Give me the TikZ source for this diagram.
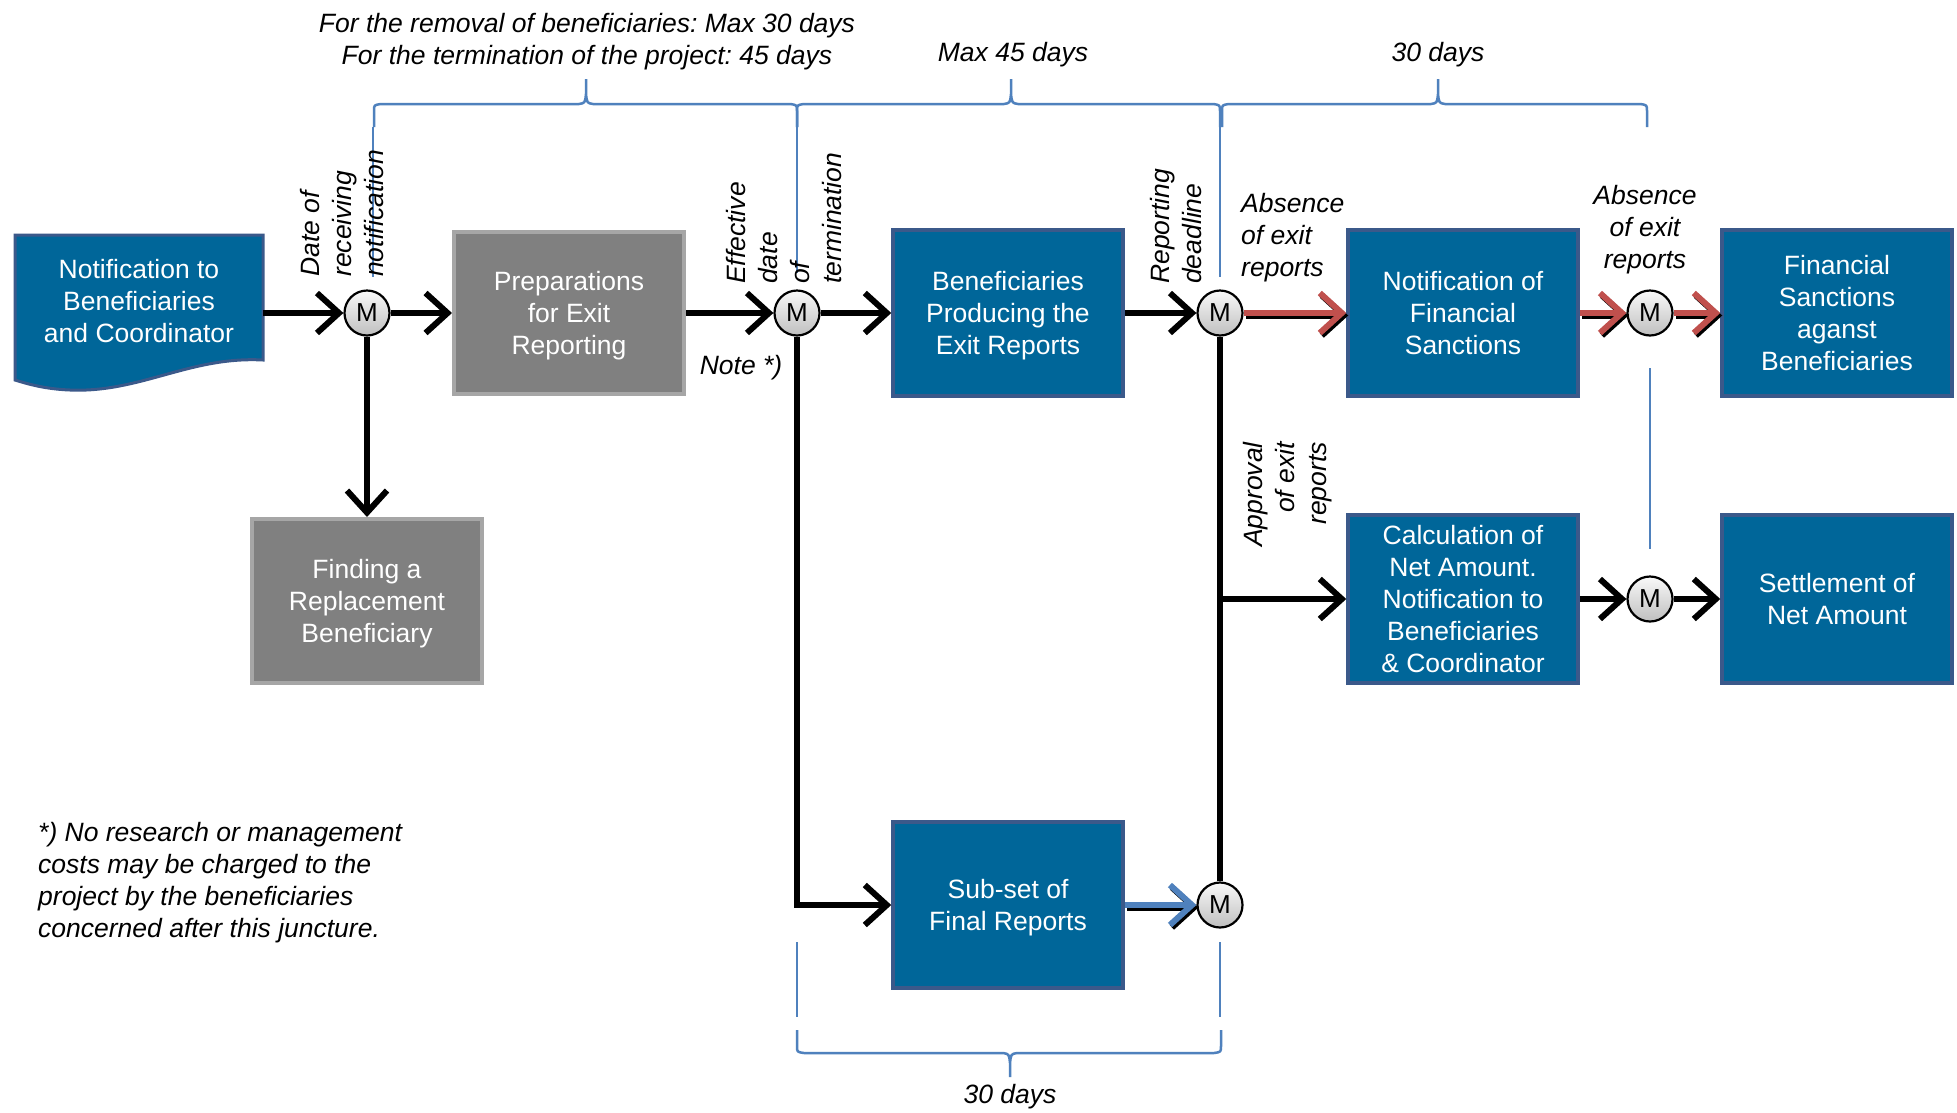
\documentclass[tikz,border=0pt]{standalone}
\usepackage{fontspec}
\setmainfont{Liberation Sans}
\usetikzlibrary{arrows.meta,calc}
\definecolor{boxblue}{RGB}{0,102,153}
\definecolor{boxedge}{RGB}{59,89,138}
\definecolor{graybox}{RGB}{128,128,128}
\definecolor{grayedge}{RGB}{166,166,166}
\definecolor{redarr}{RGB}{192,80,77}
\definecolor{bluearr}{RGB}{79,129,189}
\newcommand\mytopbrace[3]{%
  \draw[bluebrace] (#1,127) -- (#1,111) .. controls (#1,105) .. ({#1+7},104) -- ({#2-7},104)
    .. controls ({#2-1},103) .. (#2,94) -- (#2,79)
    (#2,94) .. controls ({#2+1},103) .. ({#2+7},104) -- ({#3-7},104)
    .. controls (#3,105) .. (#3,111) -- (#3,127);}
\begin{document}
\frenchspacing
\begin{tikzpicture}[x=1pt,y=-1pt,
  txt/.style={font=\fontsize{26.5}{32}\selectfont},
  itxt/.style={font=\fontsize{26.5}{32}\selectfont\itshape, inner sep=0pt},
  bluebox/.style={txt, draw=boxedge, fill=boxblue, line width=3.5pt, text=white, align=center, minimum width=230pt, minimum height=166pt, inner sep=0pt, text depth=0pt},
  greybox/.style={txt, draw=grayedge, fill=graybox, line width=4pt, text=white, align=center, minimum width=230pt, minimum height=162pt, inner sep=0pt, text depth=0pt},
  mnode/.style={circle, draw=black, line width=2.2pt, top color=gray!5, bottom color=gray!50, minimum size=45pt, inner sep=0pt, font=\fontsize{26}{26}\selectfont},
  flow/.style={line width=6pt, -{Straight Barb[length=22pt,width=40pt]}},
  flowline/.style={line width=6pt},
  bluebrace/.style={draw=bluearr, line width=2.5pt, line join=round},
  guideline/.style={draw=bluearr, line width=1.6pt},
]
\useasboundingbox (0,0) rectangle (1957,1112);
\fill[white] (0,0) rectangle (1957,1112);

% top braces and texts
\mytopbrace{374}{586}{797}
\mytopbrace{797}{1011}{1220}
\mytopbrace{1222}{1438}{1647}
\node[itxt, align=center] (t1) at (587,42) {For the removal of beneficiaries: Max 30 days\\For the termination of the project: 45 days};
\node[itxt] (t2) at (1013,55) {Max 45 days};
\node[itxt] (t3) at (1438,55) {30 days};

% bottom brace
\draw[bluebrace] (797,1030) -- (797,1046) .. controls (797,1052) .. (804,1053) -- (1003,1053)
  .. controls (1009,1054) .. (1010,1063) -- (1010,1077)
  (1010,1063) .. controls (1011,1054) .. (1017,1053) -- (1214,1053)
  .. controls (1221,1052) .. (1221,1046) -- (1221,1030);
\node[itxt] (t4) at (1010,1097) {30 days};

% guide lines
\draw[guideline] (373,127) -- (373,277);
\draw[guideline] (797,127) -- (797,273);
\draw[guideline] (1220,127) -- (1220,277);
\draw[guideline] (1650,368) -- (1650,549);
\draw[guideline] (797,942) -- (797,1017);
\draw[guideline] (1220,942) -- (1220,1017);

% notification document shape
\draw[fill=boxblue, draw=boxedge, line width=3pt] (15,235) -- (263,235) -- (263,360)
  .. controls (190,356) and (140,393) .. (70,390) .. controls (45,389) and (28,384) .. (15,380) -- cycle;
\node[txt, text=white, align=center, minimum width=248pt, inner sep=0pt] (notif) at (139,301) {Notification to\\Beneficiaries\\and Coordinator};

% nodes
\node[mnode] (m1) at (367,313) {M};
\node[greybox] (prep) at (569,313) {Preparations\\for Exit\\Reporting};
\node[greybox, minimum height=164pt] (find) at (367,601) {Finding a\\Replacement\\Beneficiary};
\node[mnode] (m2) at (797,313) {M};
\node[bluebox] (bpe) at (1008,313) {Beneficiaries\\Producing the\\Exit Reports};
\node[mnode] (m3) at (1220,313) {M};
\node[bluebox] (nfs) at (1463,313) {Notification of\\Financial\\Sanctions};
\node[mnode] (m4) at (1650,313) {M};
\node[bluebox] (fsb) at (1837,313) {Financial\\Sanctions\\aganst\\Beneficiaries};
\node[bluebox, minimum height=168pt] (calc) at (1463,599) {Calculation of\\Net Amount.\\Notification to\\Beneficiaries\\\& Coordinator};
\node[mnode] (m5) at (1650,599) {M};
\node[bluebox, minimum height=168pt] (settle) at (1837,599) {Settlement of\\Net Amount};
\node[bluebox] (subset) at (1008,905) {Sub-set of\\Final Reports};
\node[mnode] (m6) at (1220,905) {M};

% labels
\node[itxt, rotate=90, align=left, anchor=west] (lab1) at (342,277) {Date of\\receiving\\notification};
\node[itxt, rotate=90, align=left, anchor=west] (lab2) at (784,284) {Effective\\date\\of\\termination};
\node[itxt, rotate=90, align=left, anchor=west] (lab3) at (1176,284) {Reporting\\deadline};
\node[itxt, rotate=90, align=right, anchor=east] (lab4) at (1288,442) {Approval\\of exit\\reports};
\node[itxt, align=left, anchor=north west] (lab5) at (1241,193) {Absence\\of exit\\reports};
\node[itxt, align=center, anchor=north] (lab6) at (1645,185) {Absence\\of exit\\reports};
\node[itxt] (note) at (741,368) {Note *)};
\node[itxt, align=left, anchor=north west] (foot) at (38,822) {*) No research or management\\costs may be charged to the\\project by the beneficiaries\\concerned after this juncture.};

% connectors
\draw[flow] (notif.east |- m1) -- (m1);
\draw[flow] (m1) -- (prep);
\draw[flow] (m1) -- (find);
\draw[flow] (prep) -- (m2);
\draw[flow] (m2) -- (bpe);
\draw[flow] (m2) |- (subset);
\draw[flow] (bpe) -- (m3);
\draw[flowline] (m3) -- (m6);
\coordinate (br) at (m3 |- calc.west);
\draw[flow] (br) -- (calc);
\draw[flow] (calc) -- (m5);
\draw[flow] (m5) -- (settle);
\draw[flow, transform canvas={shift={(2pt,-2.5pt)}}] (m3) -- (nfs);
\draw[flow, redarr] (m3) -- (nfs);
\draw[flow, transform canvas={shift={(2pt,-2.5pt)}}] (nfs) -- (m4);
\draw[flow, redarr] (nfs) -- (m4);
\draw[flow, transform canvas={shift={(2pt,-2.5pt)}}] (m4) -- (fsb);
\draw[flow, redarr] (m4) -- (fsb);
\draw[flow, transform canvas={shift={(2pt,-2.5pt)}}] (subset) -- (m6);
\draw[flow, bluearr] (subset) -- (m6);
\end{tikzpicture}
\end{document}
